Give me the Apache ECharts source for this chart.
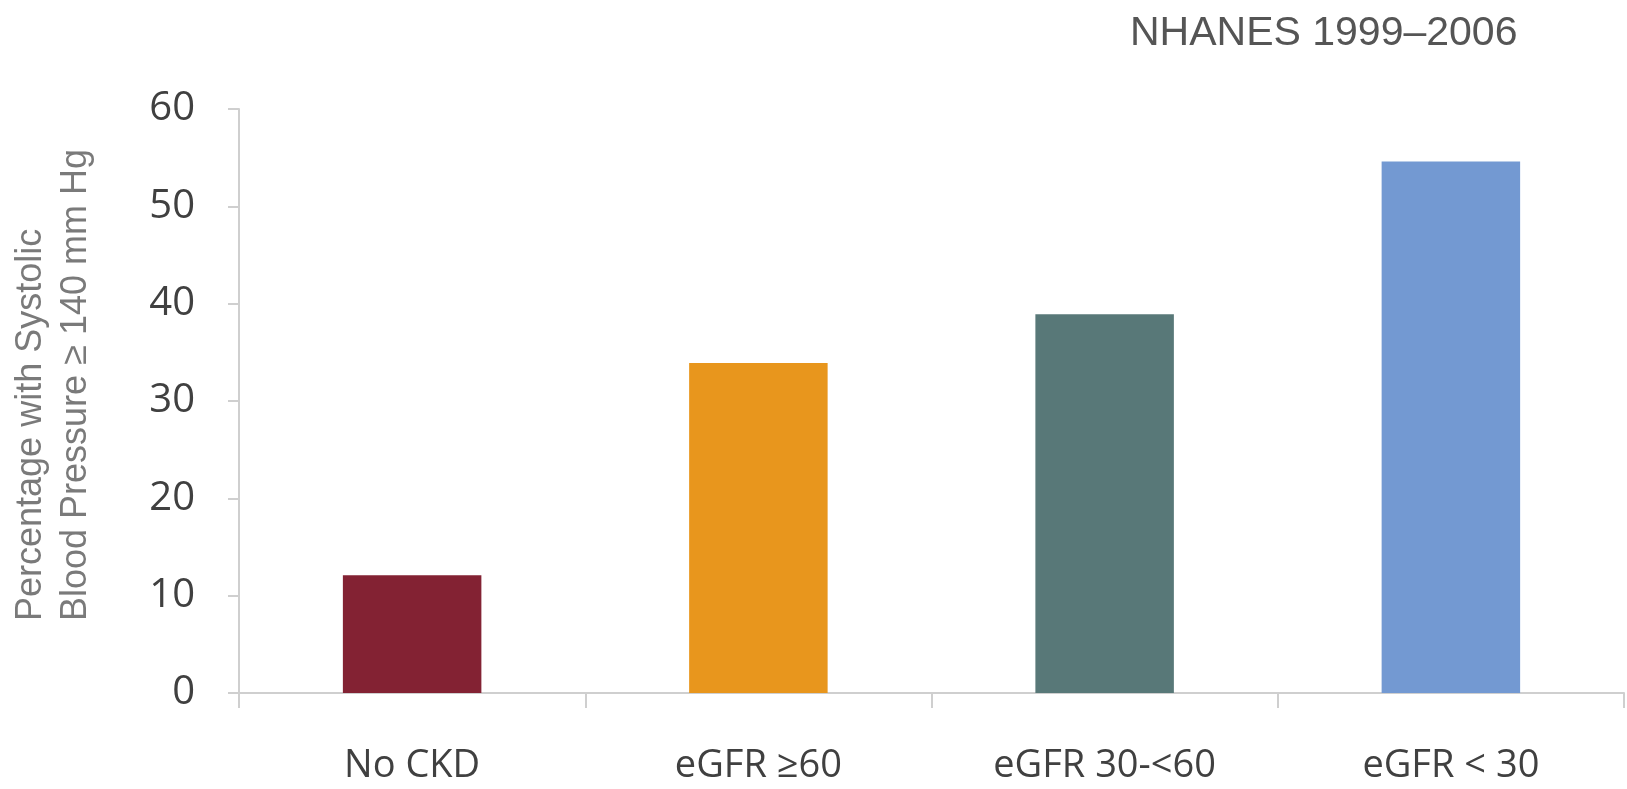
<!DOCTYPE html>
<html>
<head>
<meta charset="utf-8">
<script src="https://cdn.jsdelivr.net/npm/echarts@6/dist/echarts.min.js"></script>
<style>
html,body{margin:0;padding:0;background:#fff;}
#chart{width:1627px;height:789px;}
</style>
</head>
<body>
<div id="chart"></div>
<script>
const categories = ['No CKD', 'eGFR \u226560', 'eGFR 30-<60', 'eGFR < 30'];
const values = [12.1, 33.9, 38.9, 54.6];
const barColors = ['#832233', '#E8961D', '#587878', '#7399D2'];
const yTicks = [0, 10, 20, 30, 40, 50, 60];
const titleText = 'NHANES 1999\u20132006';
const yNameLines = ['Percentage with Systolic', 'Blood Pressure \u2265 140 mm Hg'];

const chart = echarts.init(document.getElementById('chart'));
chart.setOption({
  animation: false,
  backgroundColor: '#ffffff',
  title: {
    text: titleText,
    left: 1125,
    top: 8,
    textStyle: { fontFamily: 'Liberation Sans', fontSize: 41, fontWeight: 'normal', color: '#555555' }
  },
  graphic: [{
    type: 'text',
    x: 54,
    y: 621,
    rotation: Math.PI / 2,
    style: {
      text: yNameLines.join('\n'),
      fontFamily: 'Liberation Sans',
      fontSize: 36,
      lineHeight: 45,
      fill: '#7a7a7a',
      align: 'left',
      verticalAlign: 'middle'
    }
  }],
  grid: { left: 239, right: 3, top: 109, bottom: 96, containLabel: false },
  xAxis: {
    type: 'category',
    data: categories,
    axisLine: { lineStyle: { color: '#cfcfcf', width: 2 } },
    axisTick: { show: true, length: 15, lineStyle: { color: '#cfcfcf', width: 2 } },
    axisLabel: { fontFamily: 'Open Sans', fontSize: 38, color: '#404040', margin: 54 }
  },
  yAxis: {
    type: 'value',
    min: yTicks[0],
    max: yTicks[yTicks.length - 1],
    interval: yTicks[1] - yTicks[0],
    splitLine: { show: false },
    axisLine: { show: true, lineStyle: { color: '#cfcfcf', width: 2 } },
    axisTick: { show: true, length: 11, lineStyle: { color: '#cfcfcf', width: 2 } },
    axisLabel: { fontFamily: 'Open Sans', fontSize: 40, color: '#404040', margin: 44 }
  },
  series: [{
    type: 'bar',
    barWidth: '40%',
    data: values.map((v, i) => ({ value: v, itemStyle: { color: barColors[i] } }))
  }]
});
</script>
</body>
</html>
